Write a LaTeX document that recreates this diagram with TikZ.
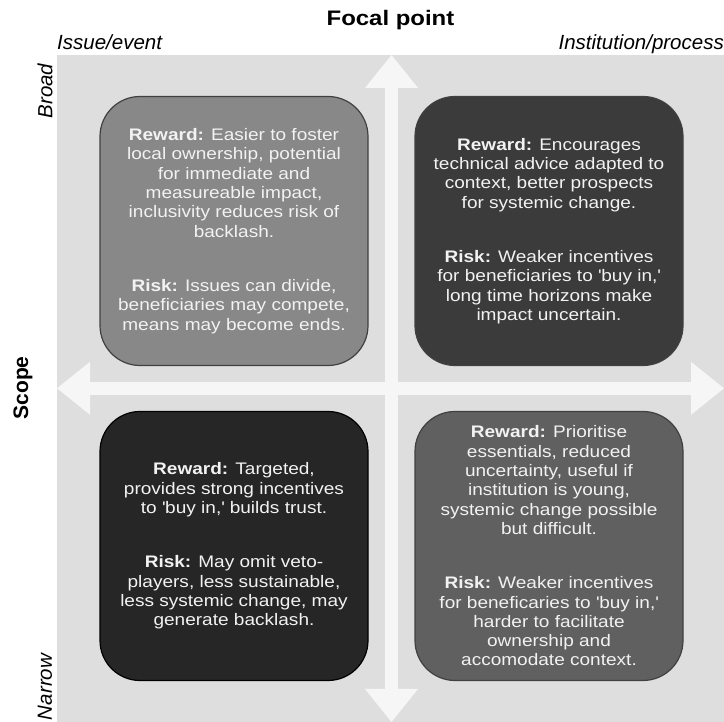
\documentclass[tikz,border=0pt]{standalone}
\usepackage{fontspec}
\setmainfont[FakeStretch=1.14]{Liberation Sans}
\newfontfamily\sidefont{Liberation Sans}
\usetikzlibrary{positioning, arrows.meta}

\definecolor{bggray}{HTML}{DEDEDE}
\definecolor{axisgray}{HTML}{F6F6F6}
\definecolor{boxtext}{HTML}{F2F2F2}
\definecolor{qtl}{HTML}{888888}
\definecolor{qtr}{HTML}{3B3B3B}
\definecolor{qbl}{HTML}{262626}
\definecolor{qbr}{HTML}{606060}

\begin{document}
\begin{tikzpicture}[x=1pt, y=1pt, node distance=315pt, on grid,
    quad/.style={draw=black!75, line width=1.2pt, rounded corners=40pt,
        minimum width=268pt, minimum height=269pt, inner sep=0pt,
        align=center, text=boxtext, font=\fontsize{16.7}{19.3}\selectfont},
    axis/.style={line width=13pt, draw=axisgray,
        {Triangle[width=53pt,length=33pt,line width=0pt]}-{Triangle[width=53pt,length=33pt,line width=0pt]}},
    sidelbl/.style={font=\sidefont\fontsize{20.5}{24}\selectfont\itshape}]

        \useasboundingbox (0,0) rectangle (724,722);

        %% BACKGROUND AND AXES
        \fill[bggray] (57,0) rectangle (724,667);
        \coordinate (ytop) at (391.5,667);
        \coordinate (ybot) at (391.5,0);
        \coordinate (xleft) at (57,333.7);
        \coordinate (xright) at (724,333.7);
        \draw[axis] (ytop) -- (ybot);
        \draw[axis] (xleft) -- (xright);

        %% NODES
        \node[quad, fill=qtl] (issuebroad) at (234,491) {%
            \textbf{Reward:} Easier to foster\\ local ownership, potential\\ for immediate and\\
            measureable impact,\\ inclusivity reduces risk of\\ backlash.\\[35pt]
            \textbf{Risk:} Issues can divide,\\ beneficiaries may compete,\\ means may become ends.};
        \node[quad, fill=qtr] (instbroad) [right=of issuebroad] {%
            \textbf{Reward:} Encourages\\ technical advice adapted to\\ context, better prospects\\
            for systemic change.\\[35pt]
            \textbf{Risk:} Weaker incentives\\ for beneficiaries to \textquotesingle buy in,\textquotesingle\\
            long time horizons make\\ impact uncertain.};
        \node[quad, fill=qbl, draw=black] (issuenarrow) [below=of issuebroad] {%
            \textbf{Reward:} Targeted,\\ provides strong incentives\\ to \textquotesingle buy in,\textquotesingle{} builds trust.\\[35pt]
            \textbf{Risk:} May omit veto-\\ players, less sustainable,\\ less systemic change, may\\ generate backlash.};
        \node[quad, fill=qbr] (instnarrow) [right=of issuenarrow] {%
            \textbf{Reward:} Prioritise\\ essentials, reduced\\ uncertainty, useful if\\ institution is young,\\
            systemic change possible\\ but difficult.\\[35pt]
            \textbf{Risk:} Weaker incentives\\ for beneficaries to \textquotesingle buy in,\textquotesingle\\
            harder to facilitate\\ ownership and\\ accomodate context.};

        %% LABELS
        \node[font=\fontsize{21}{24}\selectfont\bfseries] (focal) at (390.5,702) {Focal point};
        \node[sidelbl, anchor=base west, inner sep=0pt] (issue) at (57,672) {Issue/event};
        \node[sidelbl, anchor=base east, inner sep=0pt] (inst) at (724,672) {Institution/process};
        \node[sidelbl, rotate=90] (broad) at (45,631) {Broad};
        \node[sidelbl, rotate=90] (narrow) at (45,35) {Narrow};
        \node[font=\sidefont\fontsize{21}{24}\selectfont\bfseries, rotate=90] (scope) at (23,334) {Scope};

    \end{tikzpicture}
\end{document}
